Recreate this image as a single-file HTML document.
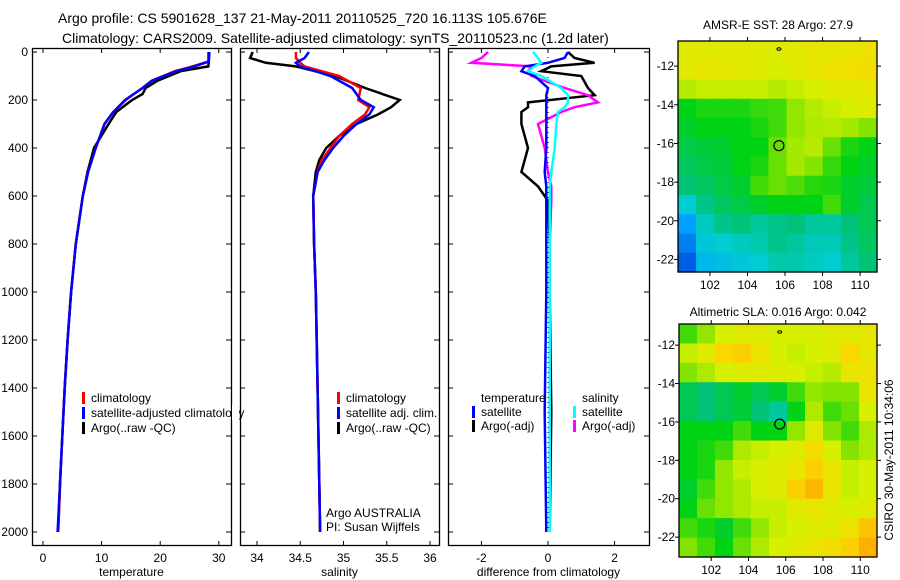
<!DOCTYPE html>
<html><head><meta charset="utf-8">
<style>
body{margin:0;background:#fff;}
svg{display:block;font-family:"Liberation Sans",sans-serif;}
text{fill:#000;}
</style></head>
<body>
<svg id="chart" width="900" height="580" viewBox="0 0 900 580" xmlns="http://www.w3.org/2000/svg">
<text x="58" y="23" font-size="14">Argo profile: CS 5901628_137 21-May-2011 20110525_720 16.113S 105.676E</text>
<text x="62" y="43" font-size="14">Climatology: CARS2009. Satellite-adjusted climatology: synTS_20110523.nc (1.2d later)</text>
<text x="778" y="29" font-size="12" text-anchor="middle">AMSR-E SST: 28 Argo: 27.9</text>
<text x="778" y="316" font-size="12" text-anchor="middle">Altimetric SLA: 0.016 Argo: 0.042</text>
<text transform="translate(893,460) rotate(-90)" font-size="12" text-anchor="middle">CSIRO 30-May-2011 10:34:06</text>
<g id="g"></g>
</svg>
<script>
// ---- data ----
const depthTicks=[0,200,400,600,800,1000,1200,1400,1600,1800,2000];
const tempTicks=[0,10,20,30];
const salTicks=[34,34.5,35,35.5,36];
const diffTicks=[-2,0,2];
const lonTicks=[102,104,106,108,110];
const latTicks=[-12,-14,-16,-18,-20,-22];

const tDepth=[0,40,60,80,100,120,150,175,200,250,300,400,500,600,800,1000,1200,1400,1600,1800,2000];
const tClim=[28.2,28.2,25.5,22.5,20.5,18.5,17,15.5,14,12,10.5,9,7.7,6.8,5.6,4.8,4.2,3.7,3.3,2.9,2.6];
const tSat=[28.4,28.3,25.8,22.8,20.6,18.6,17,15.5,14.1,12,10.5,9,7.7,6.8,5.6,4.8,4.2,3.7,3.3,2.9,2.5];
const tArgo=[28.3,28.3,28.2,23.5,21.5,19.5,17.5,17,15.2,12.5,11.2,8.7,7.6,6.8,5.6,4.8,4.2,3.7,3.3,2.9,2.6];

const sDepth=[0,25,45,60,100,150,200,230,260,300,350,400,450,500,600,800,1000,1400,1800,2000];
const sClim=[34.45,34.45,34.5,34.55,34.95,35.2,35.17,35.3,35.25,35.1,34.95,34.85,34.75,34.7,34.65,34.66,34.68,34.7,34.72,34.73];
const sSat=[34.6,34.55,34.45,34.5,34.85,35.1,35.2,35.35,35.3,35.15,35,34.88,34.78,34.7,34.65,34.66,34.68,34.7,34.72,34.73];
const sArgo=[33.95,33.92,34.1,34.45,34.9,35.25,35.65,35.55,35.4,35.15,34.95,34.8,34.72,34.68,34.65,34.66,34.68,34.7,34.72,34.73];

const dDepth=[0,25,45,60,80,100,150,180,210,230,250,300,400,500,560,620,800,1000,1500,2000];
const dTSat=[0.6,0.5,0,-0.7,-0.8,-0.4,0,-0.05,-0.05,-0.05,-0.05,-0.05,-0.05,-0.1,-0.05,-0.05,-0.05,-0.05,-0.1,-0.05];
const dTArgo=[0.6,0.8,1.4,0.1,-0.2,1.0,1.2,1.4,-0.6,-0.6,-0.8,-0.8,-0.6,-0.8,-0.3,0,0.05,0.05,0.1,0.05];
const dSSat=[-0.45,-0.3,-0.2,-0.4,-0.6,-0.2,0.4,0.6,0.6,0.5,0.3,0.25,0.2,0.1,0.05,0.05,0.05,0.05,0.05,0.05];
const dSArgo=[-1.8,-2.0,-2.3,-0.5,-0.6,-0.5,0.5,1.2,1.5,0.8,0.4,-0.3,-0.1,0,0.1,0.1,0.05,0.05,0.05,0.05];

const sstGrid=[
[0.72,0.72,0.72,0.73,0.72,0.72,0.73,0.74,0.74,0.75,0.76],
[0.73,0.74,0.74,0.73,0.72,0.7,0.72,0.74,0.76,0.77,0.78],
[0.66,0.68,0.68,0.68,0.68,0.66,0.68,0.7,0.72,0.73,0.74],
[0.5,0.52,0.52,0.52,0.54,0.55,0.62,0.66,0.68,0.7,0.72],
[0.48,0.5,0.5,0.5,0.52,0.55,0.62,0.65,0.66,0.64,0.6],
[0.46,0.47,0.48,0.5,0.5,0.58,0.64,0.66,0.58,0.52,0.5],
[0.44,0.46,0.47,0.5,0.52,0.58,0.64,0.6,0.54,0.5,0.48],
[0.42,0.44,0.46,0.48,0.55,0.58,0.56,0.53,0.52,0.48,0.47],
[0.32,0.4,0.44,0.46,0.48,0.5,0.5,0.5,0.55,0.48,0.45],
[0.2,0.34,0.4,0.42,0.38,0.4,0.42,0.38,0.38,0.42,0.45],
[0.14,0.3,0.32,0.34,0.36,0.4,0.38,0.35,0.35,0.4,0.44],
[0.08,0.26,0.28,0.3,0.32,0.36,0.36,0.34,0.32,0.38,0.42]];
const slaGrid=[
[0.55,0.62,0.7,0.72,0.72,0.7,0.7,0.7,0.72,0.72,0.74],
[0.68,0.72,0.8,0.82,0.76,0.7,0.68,0.7,0.72,0.8,0.74],
[0.6,0.65,0.7,0.72,0.72,0.72,0.7,0.68,0.66,0.75,0.76],
[0.45,0.42,0.45,0.48,0.45,0.48,0.55,0.62,0.6,0.6,0.75],
[0.45,0.42,0.45,0.47,0.42,0.38,0.5,0.65,0.55,0.58,0.7],
[0.5,0.5,0.5,0.55,0.5,0.5,0.62,0.72,0.6,0.55,0.65],
[0.5,0.52,0.55,0.65,0.68,0.7,0.72,0.78,0.7,0.6,0.65],
[0.5,0.52,0.62,0.68,0.7,0.72,0.75,0.82,0.75,0.68,0.7],
[0.48,0.55,0.62,0.65,0.7,0.72,0.82,0.88,0.75,0.68,0.7],
[0.5,0.58,0.62,0.65,0.68,0.68,0.72,0.75,0.72,0.7,0.72],
[0.55,0.52,0.48,0.55,0.62,0.68,0.7,0.72,0.72,0.76,0.85],
[0.6,0.55,0.5,0.58,0.65,0.7,0.72,0.75,0.78,0.82,0.9]];
const argoLon=105.676, argoLat=-16.113;

// ---- drawing ----
const NS="http://www.w3.org/2000/svg";
const G=document.getElementById('g');
function mk(tag,attrs,parent){const e=document.createElementNS(NS,tag);for(const k in attrs)e.setAttribute(k,attrs[k]);(parent||G).appendChild(e);return e;}
const yD=d=>52+d*0.24;
const panels=[
 {x0:32,x1:231,fx:v=>43+v*5.86,ticks:tempTicks,label:'temperature',name:'temperature-panel'},
 {x0:240,x1:439,fx:v=>257+(v-34)*86.5,ticks:salTicks,label:'salinity',name:'salinity-panel'},
 {x0:448,x1:649,fx:v=>548+v*33.3,ticks:diffTicks,label:'difference from climatology',name:'difference-panel'}];
panels.forEach((p,i)=>{
 const r=mk('rect',{x:p.x0+0.5,y:48.5,width:p.x1-p.x0,height:497,fill:'none',stroke:'#000','stroke-width':1.3});
 
 
 depthTicks.forEach(d=>{
  mk('line',{x1:p.x0,x2:p.x0+5,y1:yD(d),y2:yD(d),stroke:'#000'});
  mk('line',{x1:p.x1-5,x2:p.x1,y1:yD(d),y2:yD(d),stroke:'#000'});
 });
 p.ticks.forEach(v=>{
  const x=p.fx(v);
  mk('line',{x1:x,x2:x,y1:48,y2:53,stroke:'#000'});
  mk('line',{x1:x,x2:x,y1:541,y2:546,stroke:'#000'});
  const t=mk('text',{x:x,y:562,'font-size':12,'text-anchor':'middle'});t.textContent=String(v);
  
  
 });
 const xl=mk('text',{x:(p.x0+p.x1)/2,y:576,'font-size':12,'text-anchor':'middle'});xl.textContent=p.label;
 
 
});
depthTicks.forEach(d=>{
 const t=mk('text',{x:28,y:yD(d)+4,'font-size':12,'text-anchor':'end'});t.textContent=String(d);
 
 
});
function line(p,depths,vals,color,name,w){
 const pts=depths.map((d,i)=>p.fx(vals[i]).toFixed(1)+','+yD(d).toFixed(1)).join(' ');
 const e=mk('polyline',{points:pts,fill:'none',stroke:color,'stroke-width':w||2.5,'stroke-linejoin':'miter'});
 
 
}
line(panels[0],tDepth,tArgo,'#000','temp-argo-line');
line(panels[0],tDepth,tClim,'#f00','temp-climatology-line');
line(panels[0],tDepth,tSat,'#00f','temp-satellite-line');
line(panels[1],sDepth,sArgo,'#000','sal-argo-line');
line(panels[1],sDepth,sClim,'#f00','sal-climatology-line');
line(panels[1],sDepth,sSat,'#00f','sal-satellite-line');
line(panels[2],dDepth,dTArgo,'#000','diff-temp-argo-line');
line(panels[2],dDepth,dSArgo,'#f0f','diff-sal-argo-line');
line(panels[2],dDepth,dTSat,'#00f','diff-temp-satellite-line');
line(panels[2],dDepth,dSSat,'#0ff','diff-sal-satellite-line');
// zero dotted line
mk('line',{x1:548,x2:548,y1:52,y2:532,stroke:'#000','stroke-dasharray':'1,4'});

function legend(x,y,color,text,name){
 if(color){const b=mk('rect',{x:x,y:y-10,width:3,height:12,fill:color});
  
  }
 const t=mk('text',{x:x+(color?9:0),y:y,'font-size':12});t.textContent=text;
 
 
}
legend(82,402,'#f00','climatology','legend-climatology');
legend(82,417,'#00f','satellite-adjusted climatology','legend-satellite-adjusted');
legend(82,432,'#000','Argo(..raw -QC)','legend-argo');
legend(337,402,'#f00','climatology','legend-sal-climatology');
legend(337,417,'#00f','satellite adj. clim.','legend-sal-satellite');
legend(337,432,'#000','Argo(..raw -QC)','legend-sal-argo');
legend(481,402,null,'temperature','legend-temperature-heading');
legend(472,416,'#00f','satellite','legend-temp-satellite');
legend(472,430,'#000','Argo(-adj)','legend-temp-argo');
legend(582,402,null,'salinity','legend-salinity-heading');
legend(573,416,'#0ff','satellite','legend-sal-satellite-diff');
legend(573,430,'#f0f','Argo(-adj)','legend-sal-argo-diff');
legend(326,517,null,'Argo AUSTRALIA','argo-institution');
legend(326,531,null,'PI: Susan Wijffels','argo-pi');
// cover panel2 legend overflow beyond panel 1 (text clipped visually like original)
const clip=mk('rect',{x:232,y:405,width:7,height:15,fill:'#fff'});

// ---- maps ----
const stops=[[0,[0,50,210]],[0.2,[0,160,255]],[0.32,[0,205,210]],[0.42,[0,195,120]],[0.5,[0,210,20]],[0.6,[130,228,0]],[0.7,[215,240,0]],[0.8,[250,215,0]],[0.9,[255,175,0]],[1,[255,140,0]]];
function cmap(v){for(let i=1;i<stops.length;i++){if(v<=stops[i][0]){const a=stops[i-1],b=stops[i],t=(v-a[0])/(b[0]-a[0]);return 'rgb('+a[1].map((c,k)=>Math.round(c+(b[1][k]-c)*t)).join(',')+')';}}return 'rgb(255,140,0)';}
function map(grid,x0,x1,y0,y1,latTop,latStep,lonL,lonR,name){
 const lonX=l=>x0+(l-lonL)/(lonR-lonL)*(x1-x0);
 const latY=l=>y0+(latTop-l)*latStep;
 const rows=grid.length,cols=grid[0].length;
 const cw=(x1-x0)/cols,ch=(y1-y0)/rows;
 grid.forEach((row,r)=>row.forEach((v,c)=>{
  const e=mk('rect',{x:x0+c*cw,y:y0+r*ch,width:cw+0.6,height:ch+0.6,fill:cmap(v)});
  
  
 }));
 const f=mk('rect',{x:x0,y:y0,width:x1-x0,height:y1-y0,fill:'none',stroke:'#000','stroke-width':1.3});
 
 
 lonTicks.forEach(l=>{const x=lonX(l);
  mk('line',{x1:x,x2:x,y1:y0-4,y2:y0,stroke:'#000'});
  mk('line',{x1:x,x2:x,y1:y1,y2:y1+4,stroke:'#000'});
  const t=mk('text',{x:x,y:y1+17,'font-size':12,'text-anchor':'middle'});t.textContent=String(l);
  
  });
 latTicks.forEach(l=>{const y=latY(l);
  mk('line',{x1:x0-4,x2:x0,y1:y,y2:y,stroke:'#000'});
  mk('line',{x1:x1,x2:x1+4,y1:y,y2:y,stroke:'#000'});
  const t=mk('text',{x:x0-4,y:y+4,'font-size':12,'text-anchor':'end'});t.textContent=String(l);
  
  });
 const c=mk('circle',{cx:lonX(argoLon),cy:latY(argoLat),r:5,fill:'none',stroke:'#000','stroke-width':1.2});
 
 
 mk('ellipse',{cx:lonX(argoLon),cy:y0+8,rx:2,ry:1.3,fill:'none',stroke:'#000'});
}
map(sstGrid,678,877,41,272,-10.7,19.33,100.3,110.9,'sst-map');
map(slaGrid,679,877,324,557,-10.9,19.2,100.27,110.9,'sla-map');
</script>
</body></html>
